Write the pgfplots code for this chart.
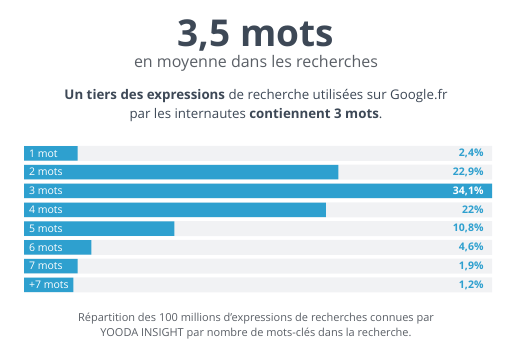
\documentclass[border=0pt]{standalone}
\usepackage{pgfplots}
\pgfplotsset{compat=1.18}
\usepackage{fontspec}
\setmainfont{Open Sans}
\definecolor{barblue}{HTML}{2EA0CF}
\definecolor{bggray}{HTML}{F1F2F4}
\definecolor{titlec}{HTML}{3D4856}
\definecolor{subc}{HTML}{5A5F66}
\begin{document}
\begin{tikzpicture}[x=1pt,y=1pt]
\useasboundingbox (0,0) rectangle (512,344);
\node[anchor=base, text=titlec, font=\fontsize{37}{40}\selectfont\bfseries, inner sep=0] at (256,297) {3,5 mots};
\node[anchor=base, text=subc, font=\fontsize{16}{18}\selectfont, inner sep=0] at (256,276) {en moyenne dans les recherches};
\node[anchor=base, text=titlec, font=\fontsize{13.3}{15}\selectfont, inner sep=0] at (256,244) {\textbf{Un tiers des expressions} de recherche utilisées sur Google.fr};
\node[anchor=base, text=titlec, font=\fontsize{13.3}{15}\selectfont, inner sep=0] at (256,225) {par les internautes \textbf{contiennent 3 mots}.};
\node[anchor=base, text=subc, font=\fontsize{11}{13}\selectfont, inner sep=0] at (256,22) {Répartition des 100 millions d'expressions de recherches connues par};
\node[anchor=base, text=subc, font=\fontsize{11}{13}\selectfont, inner sep=0] at (256,7.5) {YOODA INSIGHT par nombre de mots-clés dans la recherche.};
\begin{axis}[
  at={(24pt,49.6pt)}, anchor=south west,
  width=468pt, height=150.4pt, scale only axis,
  xmin=0, xmax=34.1, ymin=-0.5, ymax=7.5,
  hide axis, clip=false,
  xbar, bar shift=0pt,
]
% background tracks with percentage labels
\addplot[draw=none, fill=bggray, bar width=15pt,
  point meta=explicit symbolic,
  nodes near coords,
  every node near coord/.append style={anchor=east, xshift=-5pt, text=barblue, font=\fontsize{10.5}{12}\selectfont\bfseries}]
coordinates {(34.1,7)[2,4\%] (34.1,6)[22,9\%] (34.1,5)[] (34.1,4)[22\%] (34.1,3)[10,8\%] (34.1,2)[4,6\%] (34.1,1)[1,9\%] (34.1,0)[1,2\%]};
% bars as drawn (small bars widened to hold their label)
\addplot[draw=none, fill=barblue, bar width=14.5pt]
coordinates {(3.9,7) (22.9,6) (34.1,5) (22.0,4) (10.95,3) (4.9,2) (3.9,1) (3.6,0)};
% white label on the 34,1 % bar
\addplot[draw=none, fill=none, bar width=14.5pt,
  point meta=explicit symbolic,
  nodes near coords,
  every node near coord/.append style={anchor=east, xshift=-5pt, text=white, font=\fontsize{10.5}{12}\selectfont\bfseries}]
coordinates {(34.1,5)[34,1\%]};
% category names
\addplot[draw=none, fill=none, bar width=14.5pt,
  point meta=explicit symbolic,
  nodes near coords,
  every node near coord/.append style={anchor=west, xshift=1.5pt, text=white, font=\fontsize{10.5}{12}\selectfont}]
coordinates {(0,7)[1 mot] (0,6)[2 mots] (0,5)[3 mots] (0,4)[4 mots] (0,3)[5 mots] (0,2)[6 mots] (0,1)[7 mots] (0,0)[+7 mots]};
\end{axis}
\end{tikzpicture}
\end{document}
